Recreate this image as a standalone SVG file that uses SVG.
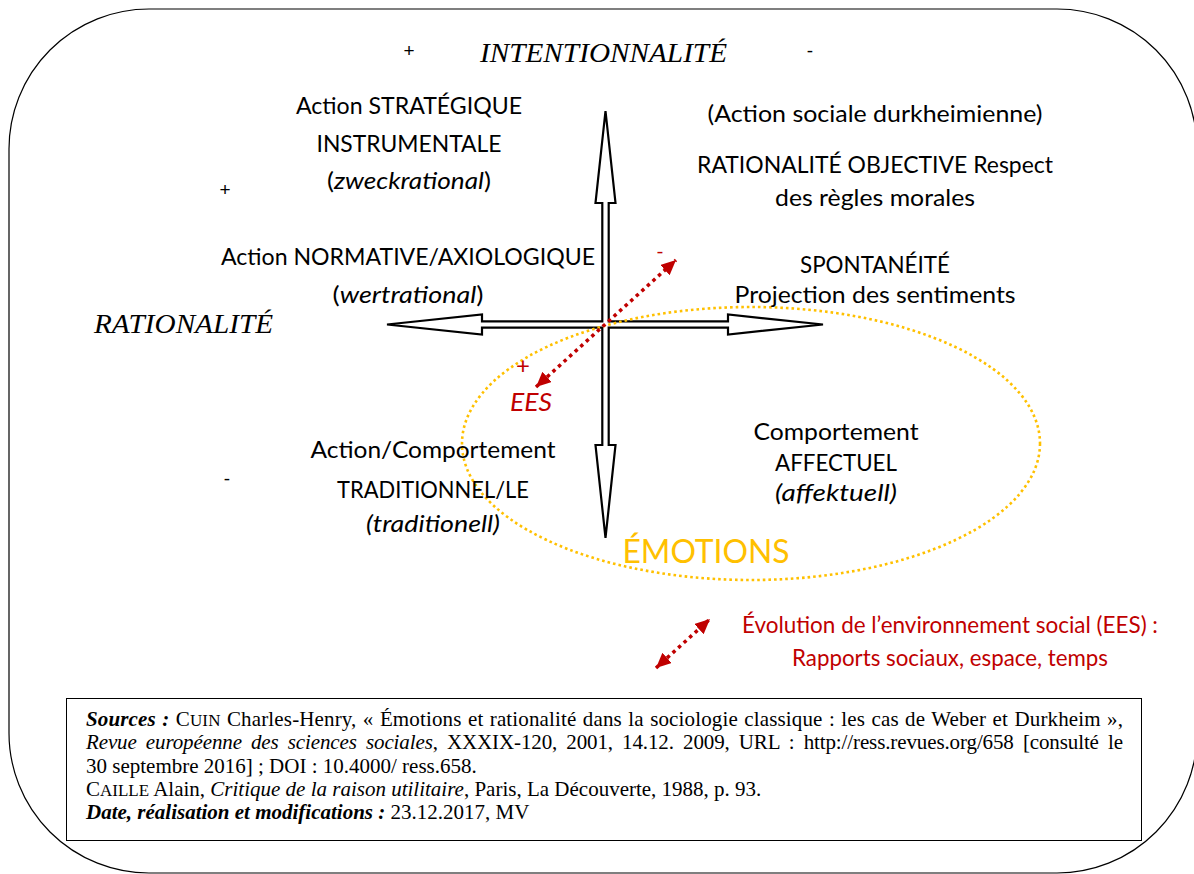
<svg xmlns="http://www.w3.org/2000/svg" width="1194" height="874" viewBox="0 0 1194 874">
<style>
.t{font-family:Lato,"Open Sans","Liberation Sans",sans-serif;font-size:23.5px;fill:#000;text-anchor:middle}
.i{font-style:italic}
.red{fill:#c00000}
.sym{font-family:"Liberation Sans",sans-serif;font-size:19px;fill:#000;text-anchor:middle}
.ser{font-family:"Liberation Serif",serif;font-style:italic;fill:#000}
.src{font-family:"Liberation Serif",serif;font-size:21px;fill:#000}
.bi{font-weight:bold;font-style:italic}
.it{font-style:italic}
.sc{font-size:17px}
.ees{fill:none;stroke:#c00000;stroke-width:3.5;stroke-dasharray:3.5 4}
</style>
<defs>
<marker id="ah" markerUnits="userSpaceOnUse" markerWidth="16" markerHeight="14" refX="15" refY="7" orient="auto-start-reverse" viewBox="0 0 16 14">
<path d="M0,0 L15,7 L0,14 z" fill="#c00000"/>
</marker>
</defs>
<rect x="9" y="9" width="1188" height="864" rx="140" ry="140" fill="#fff" stroke="#000" stroke-width="1.2"/>

<g id="connectors">
<polygon id="cross" points="605.5,111 615.5,203 608.7,203 608.7,321.3 728,321.3 728,314.5 823,324.5 728,334.5 728,327.7 608.7,327.7 608.7,445 615.5,445 605.5,538 595.5,445 602.3,445 602.3,327.7 482,327.7 482,334.5 387,324.5 482,314.5 482,321.3 602.3,321.3 602.3,203 595.5,203" fill="#fff" stroke="#000" stroke-width="2.2" stroke-linejoin="miter"/>
<ellipse id="emotions-zone" cx="751" cy="443.5" rx="289" ry="136.5" fill="none" stroke="#ffc000" stroke-width="2.6" stroke-dasharray="2.6 3"/>
<path id="ees-arrow" class="ees" d="M536,387 L676,260" marker-start="url(#ah)" marker-end="url(#ah)"/>
<path id="legend-arrow" class="ees" d="M656,668 L710,619" marker-start="url(#ah)" marker-end="url(#ah)"/>
</g>

<g id="intentionnalite">
<text class="sym" x="409" y="57">+</text>
<text class="ser" x="480" y="62" font-size="28" textLength="247" lengthAdjust="spacingAndGlyphs">INTENTIONNALITÉ</text>
<text class="sym" x="810" y="57">-</text>
</g>
<g id="rationalite">
<text class="ser" x="94" y="333" font-size="28" textLength="179" lengthAdjust="spacingAndGlyphs">RATIONALITÉ</text>
<text class="sym" x="225" y="196">+</text>
<text class="sym" x="227" y="485">-</text>
</g>
<g id="strategique">
<text class="t" x="409" y="114" textLength="226" lengthAdjust="spacingAndGlyphs">Action STRATÉGIQUE</text>
<text class="t" x="409" y="152" textLength="185" lengthAdjust="spacingAndGlyphs">INSTRUMENTALE</text>
<text class="t" x="409" y="189" textLength="164" lengthAdjust="spacingAndGlyphs">(<tspan class="i">zweckrational</tspan>)</text>
</g>
<g id="normative">
<text class="t" x="408" y="265" textLength="374" lengthAdjust="spacingAndGlyphs">Action NORMATIVE/AXIOLOGIQUE</text>
<text class="t" x="408" y="303" textLength="151" lengthAdjust="spacingAndGlyphs">(<tspan class="i">wertrational</tspan>)</text>
</g>
<g id="durkheim">
<text class="t" x="875" y="122" textLength="335" lengthAdjust="spacingAndGlyphs">(Action sociale durkheimienne)</text>
<text class="t" x="875" y="173" textLength="356" lengthAdjust="spacingAndGlyphs">RATIONALITÉ OBJECTIVE Respect</text>
<text class="t" x="875" y="206" textLength="200" lengthAdjust="spacingAndGlyphs">des règles morales</text>
</g>
<g id="spontaneite">
<text class="t" x="875" y="273" textLength="150" lengthAdjust="spacingAndGlyphs">SPONTANÉITÉ</text>
<text class="t" x="875" y="303" textLength="281" lengthAdjust="spacingAndGlyphs">Projection des sentiments</text>
</g>
<g id="ees">
<text class="t red" x="660" y="258" style="font-size:20px">-</text>
<text class="t red" x="523" y="374" style="font-size:24px">+</text>
<text class="t red i" x="531" y="411" style="font-size:25px" textLength="42" lengthAdjust="spacingAndGlyphs">EES</text>
</g>
<g id="traditionnel">
<text class="t" x="433" y="458" textLength="245" lengthAdjust="spacingAndGlyphs">Action/Comportement</text>
<text class="t" x="433" y="498" textLength="192" lengthAdjust="spacingAndGlyphs">TRADITIONNEL/LE</text>
<text class="t i" x="433" y="532" textLength="134" lengthAdjust="spacingAndGlyphs">(traditionell)</text>
</g>
<g id="affectuel">
<text class="t" x="836" y="440" textLength="165" lengthAdjust="spacingAndGlyphs">Comportement</text>
<text class="t" x="836" y="471" textLength="122" lengthAdjust="spacingAndGlyphs">AFFECTUEL</text>
<text class="t i" x="836" y="501" textLength="122" lengthAdjust="spacingAndGlyphs">(affektuell)</text>
</g>
<g id="emotions">
<text class="t" x="706" y="563" style="font-size:32px;fill:#ffc000" textLength="167" lengthAdjust="spacingAndGlyphs">ÉMOTIONS</text>
</g>
<g id="legend">
<text class="t red" x="950" y="633" textLength="416" lengthAdjust="spacingAndGlyphs">Évolution de l’environnement social (EES) :</text>
<text class="t red" x="950" y="666" textLength="316" lengthAdjust="spacingAndGlyphs">Rapports sociaux, espace, temps</text>
</g>
<g id="sources">
<rect x="66.5" y="698.5" width="1075" height="142" fill="#fff" stroke="#000" stroke-width="1"/>
<text class="src" x="86" y="726" word-spacing="1" textLength="1037" lengthAdjust="spacing"><tspan class="bi">Sources :</tspan> C<tspan class="sc">UIN</tspan> Charles-Henry, « Émotions et rationalité dans la sociologie classique : les cas de Weber et Durkheim »,</text>
<text class="src" x="86" y="749" word-spacing="4" textLength="1037" lengthAdjust="spacing"><tspan class="it">Revue européenne des sciences sociales</tspan>, XXXIX-120, 2001, 14.12. 2009, URL : http://ress.revues.org/658 [consulté le</text>
<text class="src" x="86" y="773">30 septembre 2016] ; DOI : 10.4000/ ress.658.</text>
<text class="src" x="86" y="796">C<tspan class="sc">AILLE</tspan> Alain, <tspan class="it">Critique de la raison utilitaire</tspan>, Paris, La Découverte, 1988, p. 93.</text>
<text class="src" x="86" y="819"><tspan class="bi">Date, réalisation et modifications :</tspan> 23.12.2017, MV</text>
</g>
</svg>
